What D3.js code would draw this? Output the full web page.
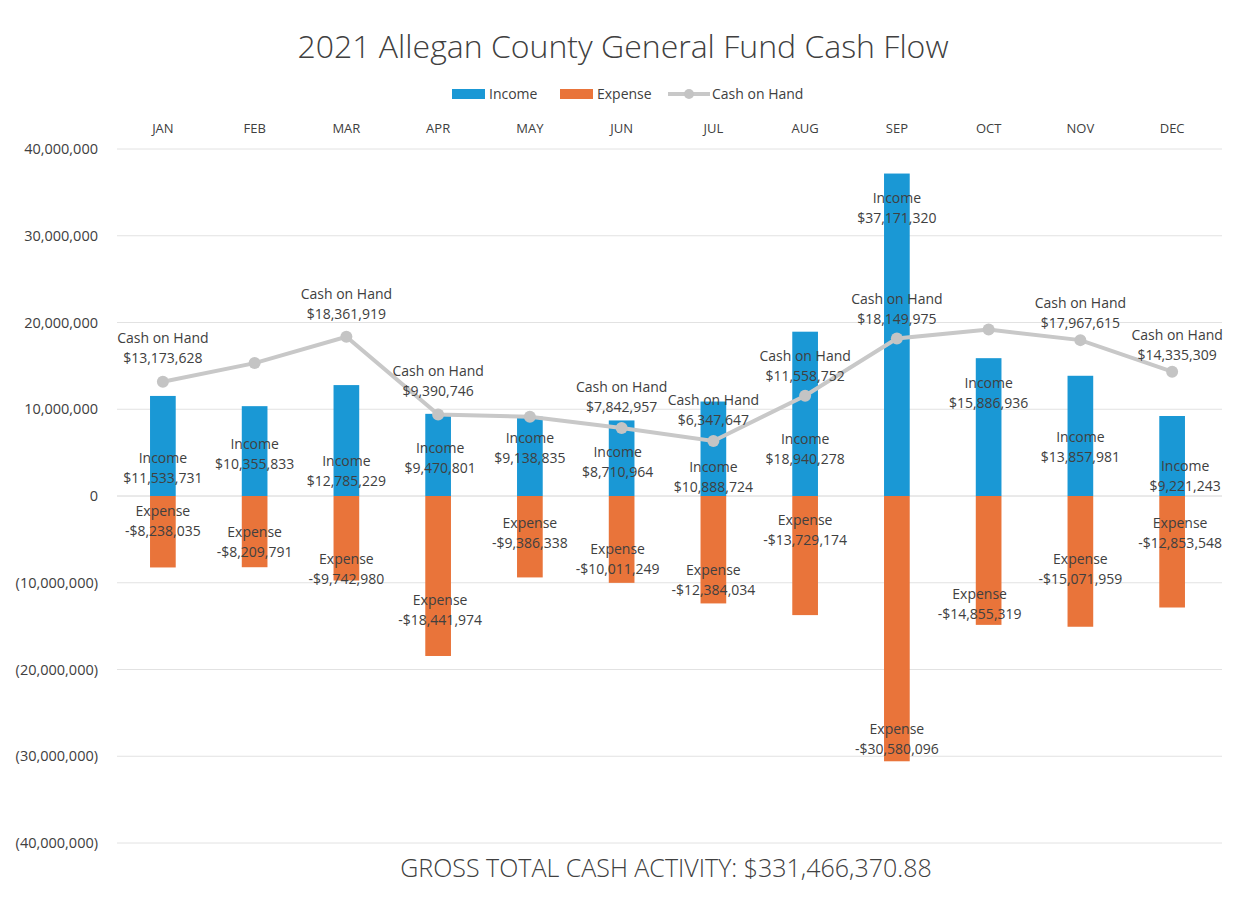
<!DOCTYPE html>
<html lang="en">
<head>
<meta charset="UTF-8">
<title>2021 Allegan County General Fund Cash Flow</title>
<script src="https://d3js.org/d3.v7.min.js"></script>
<style>
  body { margin: 0; background: #fff; }
  svg text { font-family: "Open Sans", "DejaVu Sans", sans-serif; fill: #404040; }
</style>
</head>
<body>
<div id="chart"></div>
<script>
// data
const months = ["JAN", "FEB", "MAR", "APR", "MAY", "JUN", "JUL", "AUG", "SEP", "OCT", "NOV", "DEC"];
const income = [11533731, 10355833, 12785229, 9470801, 9138835, 8710964, 10888724, 18940278, 37171320, 15886936, 13857981, 9221243];
const expense = [-8238035, -8209791, -9742980, -18441974, -9386338, -10011249, -12384034, -13729174, -30580096, -14855319, -15071959, -12853548];
const cashOnHand = [13173628, 15319670, 18361919, 9390746, 9138835, 7842957, 6347647, 11558752, 18149975, 19181592, 17967615, 14335309];
// months whose cash label is shown
const cashLabelShown = [true, false, true, true, false, true, true, true, true, false, true, true];
const yTicks = [40000000, 30000000, 20000000, 10000000, 0, -10000000, -20000000, -30000000, -40000000];
const grossTotal = "$331,466,370.88";

// where the data labels sit (value units) and small x nudges, as in the original
const incomeLabelAt = [3.35, 5.0, 3.05, 4.5, 5.7, 4.0, 2.3, 5.55, 33.3, 12.0, 5.77, 2.37].map(d => d * 1e6);
const expenseLabelAt = [-2.77, -5.14, -8.31, -13.04, -4.16, -7.16, -9.58, -3.75, -27.88, -12.35, -8.31, -4.16].map(d => d * 1e6);
const cashLabelAt = [17.2, 0, 22.28, 13.33, 0, 11.54, 10.04, 15.12, 21.65, 0, 21.24, 17.49].map(d => d * 1e6);
const incomeDx = [0, 0, 0, 2, 0, -4, 0, 0, 0, 0, 0, 13];
const expenseDx = [0, 0, 0, 2, 0, -4, 0, 0, 0, -9, 0, 8];
const cashDx = [0, 0, 0, 0, 0, 0, 0, 0, 0, 0, 0, 5];

const W = 1233, H = 905;
const plotLeft = 117, plotRight = 1218, plotTop = 149, plotBottom = 843;

const svg = d3.select("#chart").append("svg")
  .attr("width", W).attr("height", H);

const x = d3.scaleBand().domain(months).range([plotLeft, plotRight]).paddingInner(0.72).paddingOuter(0.36);
const xc = m => x(m) + x.bandwidth() / 2;
const y = d3.scaleLinear().domain([-40000000, 40000000]).range([plotBottom, plotTop]);

const fmtDollar = v => (v < 0 ? "-$" : "$") + d3.format(",")(Math.abs(v));
const fmtAxis = v => v < 0 ? "(" + d3.format(",")(-v) + ")" : d3.format(",")(v);

// title
svg.append("text")
  .attr("x", 623).attr("y", 58)
  .attr("text-anchor", "middle")
  .style("font-size", "32px")
  .style("font-weight", 300)
  .text("2021 Allegan County General Fund Cash Flow");

// legend
const lg = svg.append("g").attr("transform", "translate(452,94)");
lg.append("rect").attr("x", 0).attr("y", -5).attr("width", 33).attr("height", 10).attr("fill", "#1a98d5");
lg.append("text").attr("x", 37).attr("y", 5).style("font-size", "14px").text("Income");
lg.append("rect").attr("x", 108).attr("y", -5).attr("width", 33).attr("height", 10).attr("fill", "#e9743a");
lg.append("text").attr("x", 145).attr("y", 5).style("font-size", "14px").text("Expense");
lg.append("line").attr("x1", 216).attr("x2", 258).attr("y1", 0).attr("y2", 0)
  .attr("stroke", "#c8c8c8").attr("stroke-width", 4);
lg.append("circle").attr("cx", 237).attr("cy", 0).attr("r", 5).attr("fill", "#c4c4c4");
lg.append("text").attr("x", 260).attr("y", 5).style("font-size", "14px").text("Cash on Hand");

// gridlines
svg.append("g")
  .selectAll("line")
  .data(yTicks)
  .join("line")
  .attr("x1", plotLeft).attr("x2", plotRight + 4)
  .attr("y1", d => y(d)).attr("y2", d => y(d))
  .attr("stroke", d => d === 0 ? "#d4d4d4" : "#e2e2e2")
  .attr("stroke-width", 1);

// y axis labels
const yAxis = svg.append("g")
  .attr("transform", `translate(${plotLeft - 16},0)`)
  .call(d3.axisLeft(y).tickValues(yTicks).tickFormat(fmtAxis).tickSize(0));
yAxis.select(".domain").remove();
yAxis.selectAll("text").style("font-size", "14.5px").attr("fill", "#404040").attr("dy", "0.32em");

// month labels across the top
const xAxis = svg.append("g")
  .attr("transform", "translate(0,136)")
  .call(d3.axisTop(x).tickSize(0));
xAxis.select(".domain").remove();
xAxis.selectAll("text").style("font-size", "13px").attr("fill", "#505050");

// bars
svg.append("g").selectAll("rect")
  .data(months)
  .join("rect")
  .attr("x", m => x(m))
  .attr("width", x.bandwidth())
  .attr("y", (m, i) => y(income[i]))
  .attr("height", (m, i) => y(0) - y(income[i]))
  .attr("fill", "#1a98d5");

svg.append("g").selectAll("rect")
  .data(months)
  .join("rect")
  .attr("x", m => x(m))
  .attr("width", x.bandwidth())
  .attr("y", y(0))
  .attr("height", (m, i) => y(expense[i]) - y(0))
  .attr("fill", "#e9743a");

// cash on hand line
svg.append("path")
  .datum(months)
  .attr("fill", "none")
  .attr("stroke", "#c8c8c8")
  .attr("stroke-width", 4)
  .attr("d", d3.line().x(m => xc(m)).y((m, i) => y(cashOnHand[i])));

svg.append("g").selectAll("circle")
  .data(months)
  .join("circle")
  .attr("cx", m => xc(m))
  .attr("cy", (m, i) => y(cashOnHand[i]))
  .attr("r", 6)
  .attr("fill", "#c4c4c4");

// two-line data labels
function label(g, cx, cy, name, value) {
  const t = g.append("text")
    .attr("x", cx).attr("text-anchor", "middle")
    .style("font-size", "14px");
  t.append("tspan").attr("x", cx).attr("y", cy - 4).text(name);
  t.append("tspan").attr("x", cx).attr("y", cy + 16).text(fmtDollar(value));
}

const labels = svg.append("g");
months.forEach((m, i) => {
  label(labels, xc(m) + incomeDx[i], y(incomeLabelAt[i]), "Income", income[i]);
  label(labels, xc(m) + expenseDx[i], y(expenseLabelAt[i]), "Expense", expense[i]);
  if (cashLabelShown[i]) {
    label(labels, xc(m) + cashDx[i], y(cashLabelAt[i]), "Cash on Hand", cashOnHand[i]);
  }
});

// footer
svg.append("text")
  .attr("x", 666).attr("y", 877)
  .attr("text-anchor", "middle")
  .style("font-size", "25px")
  .style("font-weight", 300)
  .text("GROSS TOTAL CASH ACTIVITY: " + grossTotal);
</script>
</body>
</html>
